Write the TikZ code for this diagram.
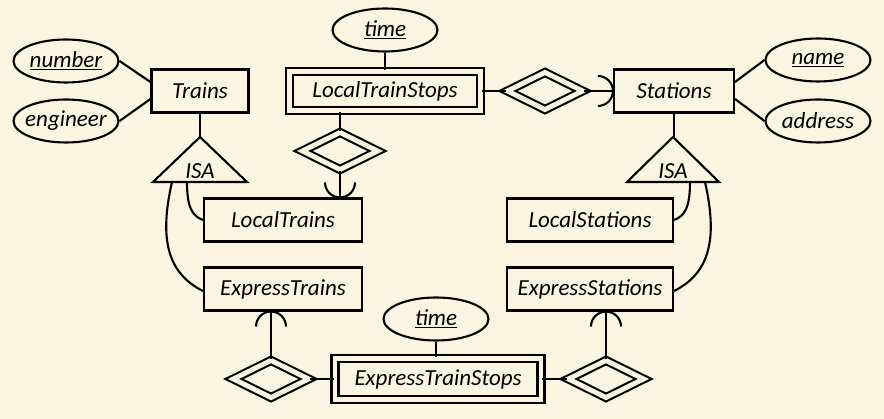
\documentclass[tikz,border=0pt]{standalone}
\usepackage{fontspec}
\setmainfont{Carlito}
\usetikzlibrary{shapes.geometric}
\definecolor{bg}{HTML}{FAF5E0}
\begin{document}
\begin{tikzpicture}[x=1pt,y=-1pt, line width=2.1pt, line join=miter,
  every node/.style={font=\fontsize{23}{27}\selectfont\itshape, inner sep=0pt},
  ent/.style={draw, rectangle, minimum height=43pt},
  weak/.style={draw, rectangle, double=bg, double distance=4.9pt, minimum height=39pt},
  attr/.style={draw, ellipse, inner xsep=-14pt, minimum width=105pt, minimum height=43pt},
  wrel/.style={draw, diamond, double=bg, double distance=4.9pt, minimum width=76pt, minimum height=38pt}]
\fill[bg] (0,0) rectangle (884,419);
\useasboundingbox (0,0) rectangle (884,419);
% nodes
\node[attr] (num) at (66,61) {\underline{number}};
\node[attr] (eng) at (66,121) {engineer};
\node[ent, minimum width=97pt] (trains) at (200,91) {Trains};
\node[attr] (time1) at (385,30) {\underline{time}};
\node[weak, minimum width=191pt] (lts) at (385,91) {LocalTrainStops};
\node[wrel] (d1) at (545,91) {};
\node[ent, minimum width=120pt] (st) at (674,91) {Stations};
\node[attr] (name) at (818,60) {\underline{name}};
\node[attr] (addr) at (818,121) {address};
\node[wrel] (d2) at (340,151) {};
\node[ent, minimum width=158pt] (lt) at (283,220) {LocalTrains};
\node[ent, minimum width=158pt] (et) at (283,289) {ExpressTrains};
\node[ent, minimum width=166pt] (ls) at (590,220) {LocalStations};
\node[ent, minimum width=166pt] (es) at (590,289) {ExpressStations};
\node[attr] (time2) at (436,319) {\underline{time}};
\node[weak, minimum width=206pt, minimum height=41pt] (ets) at (438,379) {ExpressTrainStops};
\node[wrel] (d3) at (271,379) {};
\node[wrel] (d4) at (606,379) {};
\node (isa1) at (200,171) {ISA};
\node (isa2) at (673,171) {ISA};
\coordinate (t1a) at (200,137);
\coordinate (t1l) at (153,182);
\coordinate (t1r) at (247,182);
\coordinate (t2a) at (673,137);
\coordinate (t2l) at (627,182);
\coordinate (t2r) at (719,182);
\draw (t1a) -- (t1l) -- (t1r) -- cycle;
\draw (t2a) -- (t2l) -- (t2r) -- cycle;
% connectors
\draw (num.east) -- ([yshift=9pt]trains.west);
\draw (eng.east) -- ([yshift=-8pt]trains.west);
\draw (trains.south) -- (t1a);
\draw (name.west) -- ([yshift=9pt]st.east);
\draw (addr.west) -- ([yshift=-8pt]st.east);
\draw (st.south) -- (st.south |- t2a);
\draw (time1.south) -- (lts.north);
\draw (lts.east) -- (d1.west);
\draw (d1.east) -- (st.west);
\draw ([xshift=-15pt]st.west) ++(0,-15) arc[start angle=-90, end angle=90, radius=15];
\draw (d2.north) -- (d2.north |- lts.south);
\draw (d2.south) -- (d2.south |- lt.north);
\draw ([yshift=15pt]d2.south |- lt.north) ++(-15,0) arc[start angle=180, end angle=0, radius=15];
% ISA curves
\draw (187,182) .. controls (187,207) and (192,216) .. (lt.west);
\draw (172,182) .. controls (160,235) and (165,272) .. ([yshift=-2pt]et.west);
\draw (690,182) .. controls (690,207) and (685,216) .. (ls.east);
\draw (705,182) .. controls (717,235) and (712,272) .. ([yshift=-2pt]es.east);
% bottom
\draw (time2.south) -- (time2.south |- ets.north);
\draw (d3.east) -- (ets.west);
\draw (ets.east) -- (d4.west);
\draw (d3.north) -- (d3.north |- et.south);
\draw ([yshift=-15pt]d3.north |- et.south) ++(-15,0) arc[start angle=180, end angle=360, radius=15];
\draw (d4.north) -- (d4.north |- es.south);
\draw ([yshift=-15pt]d4.north |- es.south) ++(-15,0) arc[start angle=180, end angle=360, radius=15];
\end{tikzpicture}
\end{document}
